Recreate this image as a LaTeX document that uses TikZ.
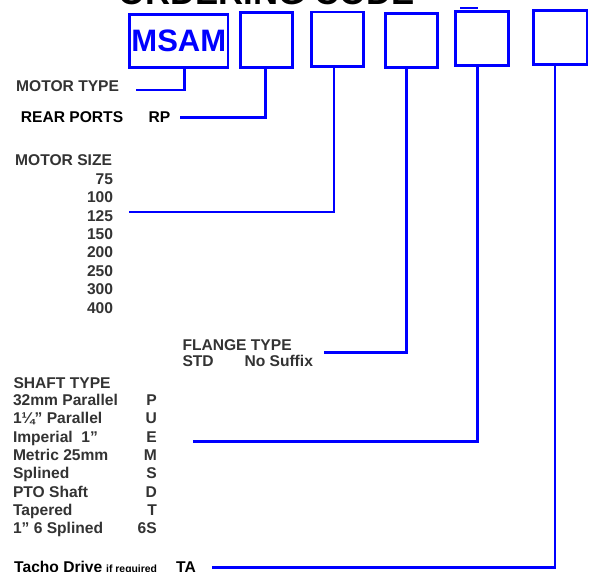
\documentclass[tikz,border=0pt]{standalone}
\usepackage{fontspec}
\setmainfont{Liberation Sans}
\definecolor{tgray}{HTML}{333333}
\definecolor{lblue}{RGB}{0,0,255}
\newcommand{\lblfont}{\fontsize{15.6}{18}\selectfont\bfseries}
\begin{document}
\begin{tikzpicture}[x=1pt,y=-1pt,
  codebox/.style={draw=lblue,line width=2.6pt,inner sep=0pt,outer sep=0pt},
  conn/.style={draw=lblue,line width=2.6pt},
  lab/.style={font=\lblfont,text=tgray,inner sep=0pt,anchor=base west},
  labk/.style={font=\lblfont,text=black,inner sep=0pt,anchor=base west},
  labr/.style={font=\lblfont,text=tgray,inner sep=0pt,anchor=base east}]
\useasboundingbox (0,0) rectangle (595,572);
\clip (0,0) rectangle (595,572);
% title
\node[font=\fontsize{34.7}{40}\selectfont\bfseries,inner sep=0pt,anchor=base west] (title) at (118,4.5) {ORDERING CODE};
% boxes
\node[codebox,minimum width=98.4pt,minimum height=52.8pt,font=\fontsize{31}{34}\selectfont\bfseries,text=lblue] (b1) at (178.8,41) {MSAM};
\node[codebox,minimum width=52.1pt,minimum height=54.8pt] (b2) at (266.3,40) {};
\node[codebox,minimum width=52.4pt,minimum height=54.4pt] (b3) at (337.5,39.2) {};
\node[codebox,minimum width=52.4pt,minimum height=53.8pt] (b4) at (411.5,40.5) {};
\node[codebox,minimum width=53.1pt,minimum height=54.1pt] (b5) at (482.2,38.3) {};
\node[codebox,minimum width=53.4pt,minimum height=53.8pt] (b6) at (560.3,37.5) {};
\coordinate (t5a) at (460,8);
\coordinate (t5b) at (477.7,8);
\draw[draw=lblue,line width=1.6pt] (t5a) -- (t5b);
% labels
\node[lab] (mt) at (16,91.5) {MOTOR TYPE};
\node[labk] (rp) at (20.7,123) {REAR PORTS};
\node[labk] (rpc) at (148.3,123) {RP};
\node[lab] (ms) at (15,166) {MOTOR SIZE};
\foreach \v [count=\i from 0] in {75,100,125,150,200,250,300,400}
  \node[labr] (ms\i) at (113.3,{184.3+18.4*\i}) {\v};
\node[lab] (fl) at (182.3,351) {FLANGE TYPE};
\node[lab] (fls) at (182.3,366.7) {STD};
\node[lab] (flc) at (244.3,366.7) {No Suffix};
\node[lab] (sh) at (13.3,388.3) {SHAFT TYPE};
\foreach \t/\c [count=\i from 0] in {32mm Parallel/P,1¼” Parallel/U,Imperial \ 1”/E,Metric 25mm/M,Splined/S,PTO Shaft/D,Tapered/T,1” 6 Splined/6S}{
  \node[lab] (sh\i) at (12.8,{405.5+18.3*\i}) {\t};
  \node[labr] (sc\i) at (157,{405.5+18.3*\i}) {\c};
}
\node[labk] (ta) at (14,572) {Tacho Drive};
\node[font=\fontsize{10.4}{12}\selectfont\bfseries,inner sep=0pt,anchor=base west] (tar) at (106,572) {if required};
\node[labk] (tac) at (176,572) {TA};
% connector ends
\coordinate (e1) at (135.7,90);
\coordinate (e2) at (180,117.5);
\coordinate (e3) at (129.3,212);
\coordinate (e4) at (324.3,352.5);
\coordinate (e5) at (193.3,441.7);
\coordinate (e6) at (211.7,567.5);
\draw[conn] ([xshift=5.5pt]b1.south) |- (e1);
\draw[conn] ([xshift=-1pt]b2.south) |- (e2);
\draw[conn] ([xshift=-3.5pt]b3.south) |- (e3);
\draw[conn] ([xshift=-5pt]b4.south) |- (e4);
\draw[conn] ([xshift=-4.7pt]b5.south) |- (e5);
\draw[conn] ([xshift=-5.3pt]b6.south) |- (e6);
\end{tikzpicture}
\end{document}
